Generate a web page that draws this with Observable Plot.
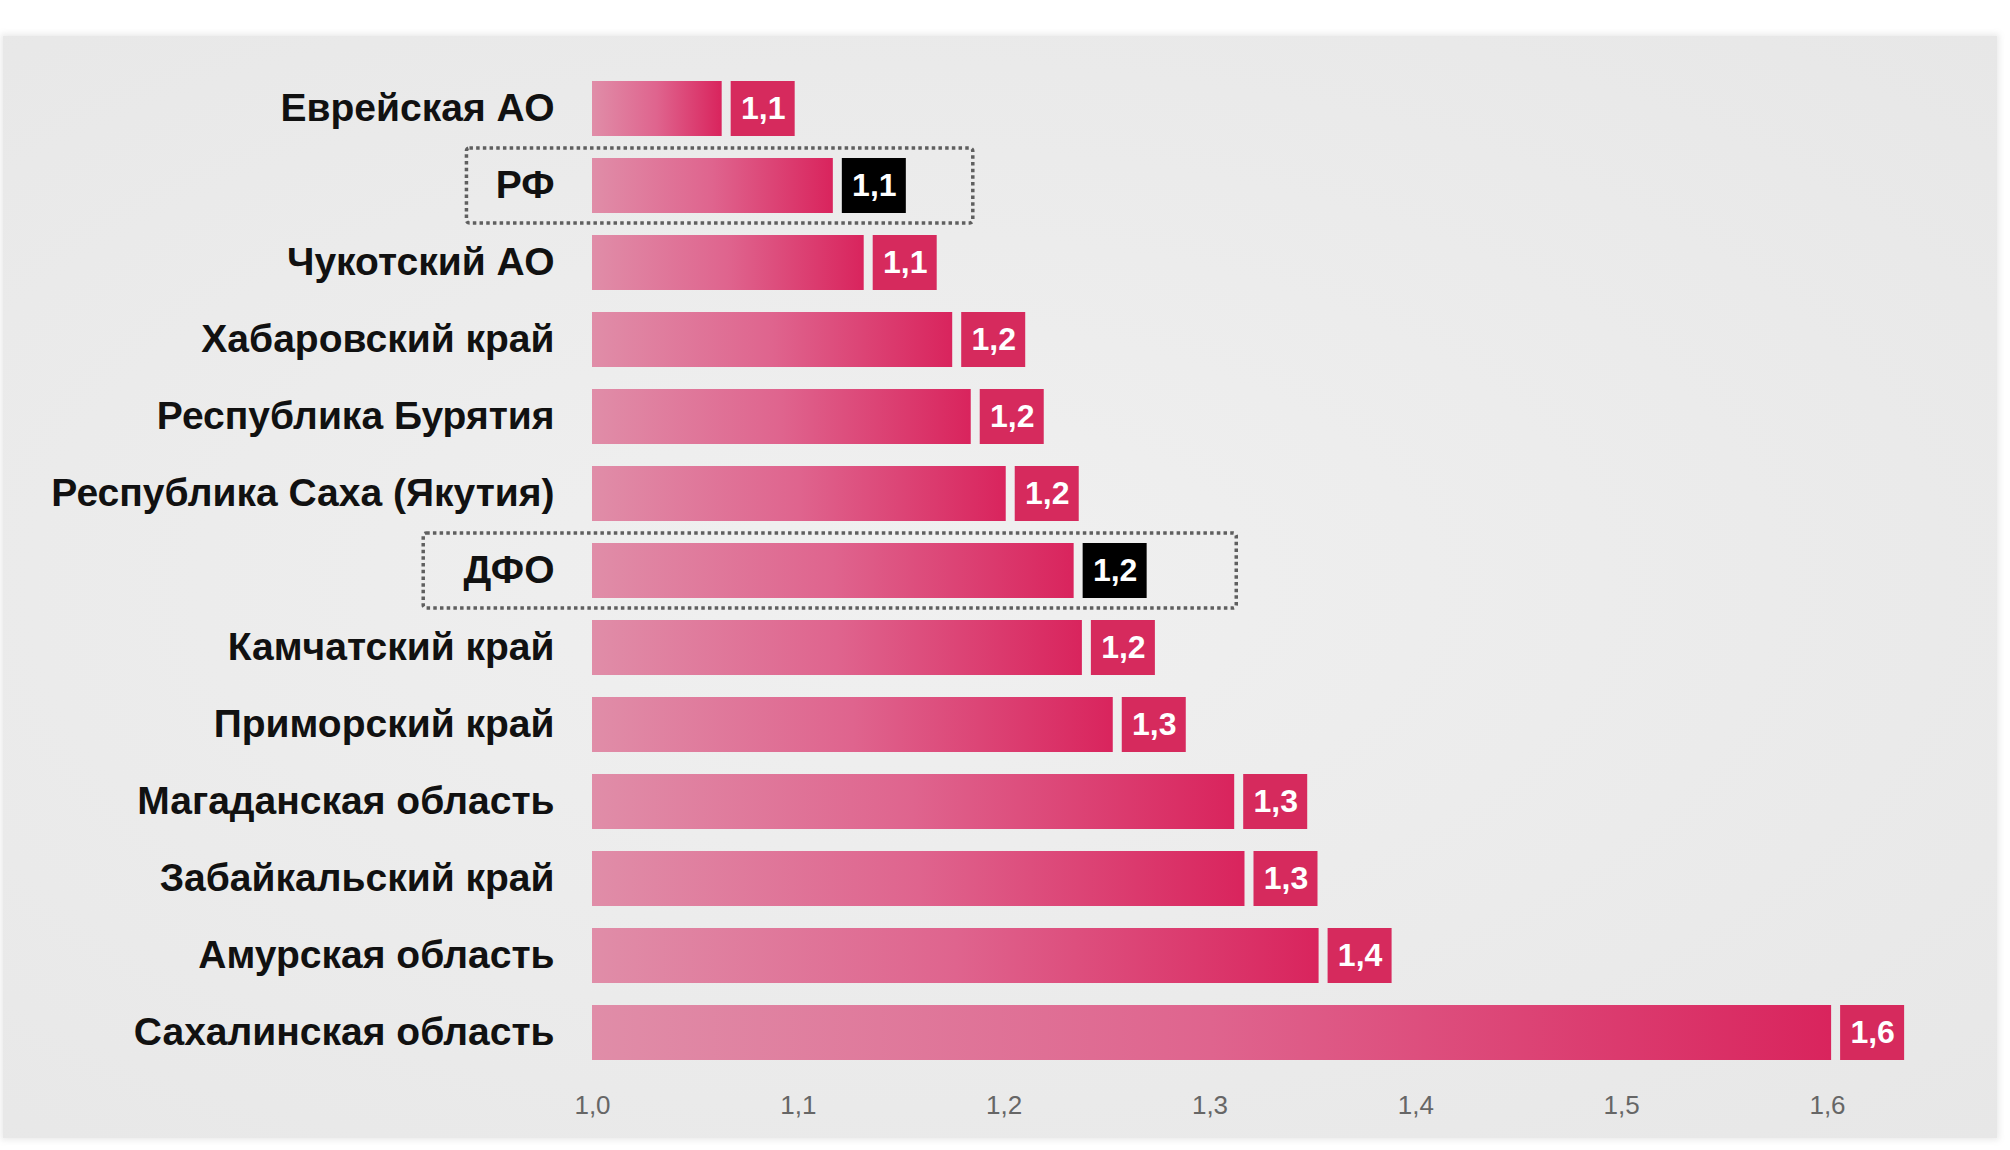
<!DOCTYPE html>
<html>
<head>
<meta charset="utf-8">
<script src="https://cdn.jsdelivr.net/npm/d3@7"></script>
<script src="https://cdn.jsdelivr.net/npm/@observablehq/plot@0.6"></script>
<style>
  html, body { margin: 0; padding: 0; background: #ffffff; }
  #wrap { position: relative; width: 2010px; height: 1150px; overflow: hidden; }
  #panel {
    position: absolute; left: 3px; top: 36px; width: 1994px; height: 1102px;
    background: radial-gradient(ellipse at 45% 50%, #f0f0f0 0%, #ececec 45%, #e7e7e7 100%);
    box-shadow: 0 0 6px 2px rgba(232,232,232,0.9);
  }
  #chart { position: absolute; left: 0; top: 0; }
  #chart svg { background: transparent; }
</style>
</head>
<body>
<div id="wrap">
  <div id="panel"></div>
  <div id="chart"></div>
</div>
<script>
// ---- data ----
const names = [
  "Еврейская АО",
  "РФ",
  "Чукотский АО",
  "Хабаровский край",
  "Республика Бурятия",
  "Республика Саха (Якутия)",
  "ДФО",
  "Камчатский край",
  "Приморский край",
  "Магаданская область",
  "Забайкальский край",
  "Амурская область",
  "Сахалинская область"
];
const values = [1.063, 1.117, 1.132, 1.175, 1.184, 1.201, 1.234, 1.238, 1.253, 1.312, 1.317, 1.353, 1.602];
const valueLabels = ["1,1", "1,1", "1,1", "1,2", "1,2", "1,2", "1,2", "1,2", "1,3", "1,3", "1,3", "1,4", "1,6"];
const highlighted = ["РФ", "ДФО"];
const xTicks = [1.0, 1.1, 1.2, 1.3, 1.4, 1.5, 1.6];
// dashed frames around highlighted rows (extent in x-value units)
const frameNames = ["РФ", "ДФО"];
const frameFrom = [0.939, 0.918];
const frameTo = [1.185, 1.313];

const data = names.map((name, i) => ({
  name, value: values[i], label: valueLabels[i], hi: highlighted.includes(name)
}));
const frames = frameNames.map((name, i) => ({name, from: frameFrom[i], to: frameTo[i]}));

const FONT = "'Liberation Sans', Arial, Helvetica, sans-serif";
const fmt = d => d.toFixed(1).replace(".", ",");

const svg = Plot.plot({
  width: 2010,
  height: 1150,
  marginLeft: 592,
  marginRight: 183,
  marginTop: 58,
  marginBottom: 68,
  style: {fontFamily: FONT, background: "transparent", overflow: "visible"},
  x: {domain: [1.0, 1.6], ticks: xTicks, tickFormat: fmt},
  y: {domain: names, padding: 0.29},
  marks: [
    Plot.barX(frames, {
      y: "name", x1: "from", x2: "to",
      fill: "none", stroke: "#5f5f5f", strokeWidth: 3.5, strokeDasharray: "3.5,3.2",
      insetTop: -10, insetBottom: -10, rx: 3
    }),
    Plot.barX(data, {y: "name", x1: () => 1.0, x2: "value", fill: "url(#barGrad)"}),
    Plot.barX(data, {
      y: "name", x1: "value", x2: "value",
      insetLeft: 9, insetRight: -73,
      fill: d => d.hi ? "#000000" : "#d62a5d"
    }),
    Plot.text(data, {
      y: "name", x: "value", text: "label", dx: 41,
      fill: "#ffffff", fontSize: 32, fontWeight: "bold", textAnchor: "middle"
    }),
    Plot.axisY({tickSize: 0, tickPadding: 38, fontSize: 39, fontWeight: "bold", fill: "#111111", label: null}),
    Plot.axisX({tickSize: 0, tickPadding: 13, fontSize: 26, fill: "#666666", label: null, ticks: xTicks, tickFormat: fmt})
  ]
});

// gradient definition for bars (per-bar, left light → right deep)
const defs = d3.select(svg).insert("defs", ":first-child");
const grad = defs.append("linearGradient").attr("id", "barGrad")
  .attr("x1", "0").attr("x2", "1").attr("y1", "0").attr("y2", "0");
grad.append("stop").attr("offset", "0%").attr("stop-color", "#e08da8");
grad.append("stop").attr("offset", "50%").attr("stop-color", "#df648e");
grad.append("stop").attr("offset", "100%").attr("stop-color", "#d9245d");

document.getElementById("chart").appendChild(svg);
</script>
</body>
</html>
